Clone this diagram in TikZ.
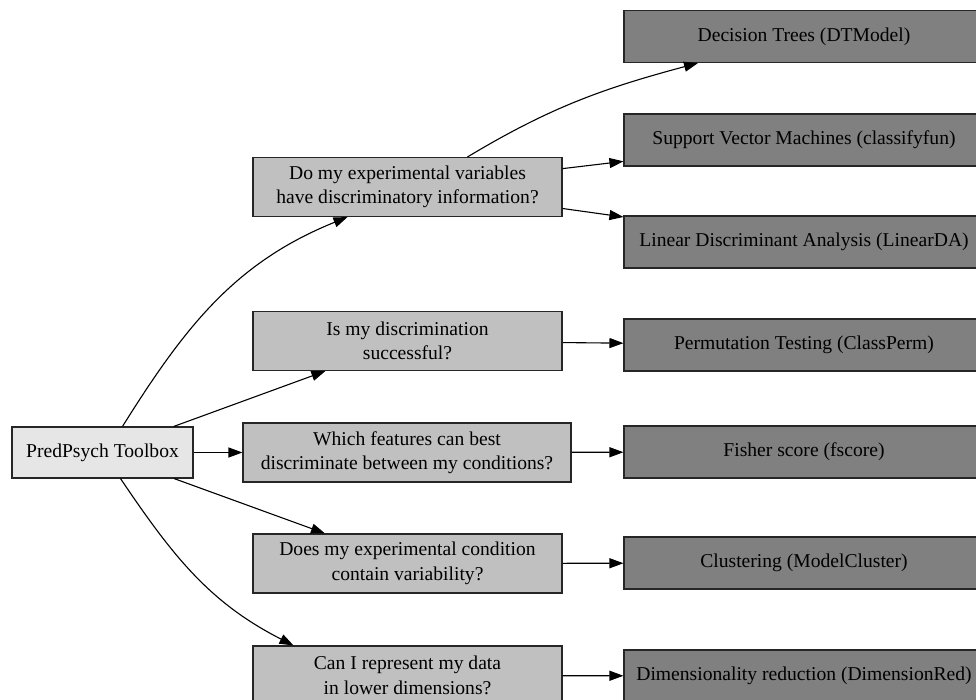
\documentclass[tikz,border=0pt]{standalone}
\usepackage{fontspec}
\setmainfont{Liberation Serif}
\usetikzlibrary{arrows.meta}

\definecolor{rootgray}{HTML}{E6E6E6}
\definecolor{askgray}{HTML}{C0C0C0}
\definecolor{funcgray}{HTML}{808080}

\begin{document}
\begin{tikzpicture}[x=1pt,y=1pt,
    every node/.style={draw=black!85,line width=1.1pt,inner sep=0pt,align=center,
      font=\fontsize{19.6}{24.5}\selectfont},
    rootbox/.style={fill=rootgray,minimum width=181pt,minimum height=51pt},
    askbox/.style={fill=askgray,minimum width=309pt,minimum height=59pt},
    funcbox/.style={fill=funcgray,minimum width=360pt,minimum height=52pt},
    link/.style={-{Triangle[length=14pt,width=10pt]},line width=1.1pt}]
\useasboundingbox (0,0) rectangle (976,699);
\clip (0,0) rectangle (976,699);

% start
\node [rootbox] (root) at (102.5,246.5) {PredPsych Toolbox};

% questions
\node [askbox] (q1) at (407.5,512) {Do my experimental variables\\have discriminatory information?};
\node [askbox] (q2) at (407.5,358) {Is my discrimination\\successful?};
\node [askbox,minimum width=328pt] (q3) at (407,246.5) {Which features can best\\discriminate between my conditions?};
\node [askbox] (q4) at (407.5,135.5) {Does my experimental condition\\contain variability?};
\node [askbox] (q5) at (407.5,23.5) {Can I represent my data\\in lower dimensions?};

% functions
\node [funcbox] (dt) at (804,662.5) {Decision Trees (DTModel)};
\node [funcbox] (svm) at (804,559) {Support Vector Machines (classifyfun)};
\node [funcbox] (lda) at (804,457) {Linear Discriminant Analysis (LinearDA)};
\node [funcbox] (perm) at (804,354) {Permutation Testing (ClassPerm)};
\node [funcbox] (fisher) at (804,247) {Fisher score (fscore)};
\node [funcbox] (clust) at (804,136) {Clustering (ModelCluster)};
\node [funcbox] (dimred) at (804,23) {Dimensionality reduction (DimensionRed)};

% edges
\draw [link] ([xshift=20pt]root.north) to[out=58,in=202] ([xshift=-60pt]q1.south);
\draw [link] (root) -- (q2);
\draw [link] (root) -- (q3);
\draw [link] (root) -- (q4);
\draw [link] ([xshift=18pt]root.south) to[out=-56,in=153] ([xshift=-114pt]q5.north);

\draw [link] ([xshift=60pt]q1.north) to[out=31,in=195] ([xshift=-106pt]dt.south);
\draw [link] (q1) -- (svm);
\draw [link] (q1) -- (lda);
\draw [link] (q2) -- (perm);
\draw [link] (q3) -- (fisher);
\draw [link] (q4) -- (clust);
\draw [link] (q5) -- (dimred);
\end{tikzpicture}
\end{document}
